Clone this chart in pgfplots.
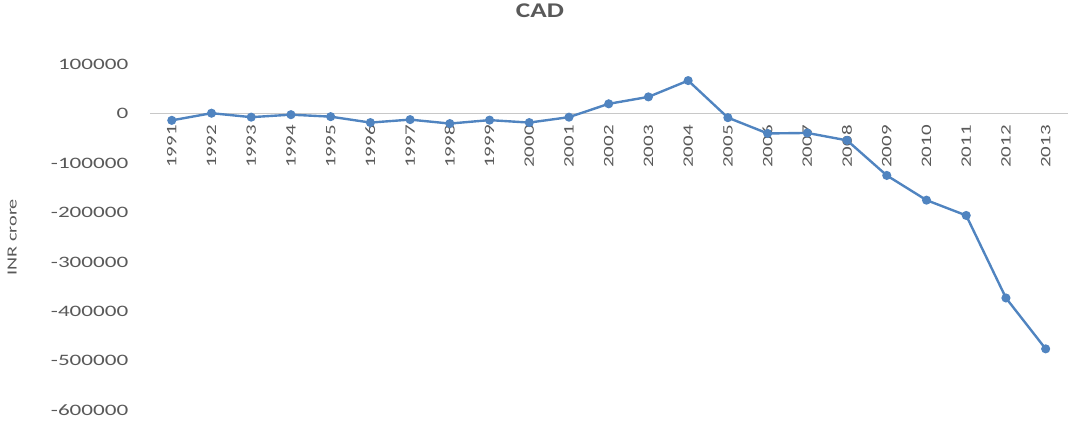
\documentclass[border=0pt]{standalone}
\usepackage{pgfplots}
\pgfplotsset{compat=1.18}
\usepackage{fontspec}
\setmainfont{Carlito}[FakeStretch=1.45]
\newfontfamily\titlefont{Carlito}[FakeStretch=1.3]
\definecolor{linecol}{RGB}{80,132,192}
\definecolor{txtgray}{RGB}{89,89,89}
\definecolor{zerogray}{RGB}{200,200,200}
\begin{document}
\begin{tikzpicture}
\begin{axis}[
  at={(0,0)}, anchor=south west,
  scale only axis,
  width=918bp, height=346bp,
  xmin=-0.55, xmax=22.55,
  ymin=-600000, ymax=100000,
  scaled y ticks=false,
  axis x line=middle,
  axis y line=left,
  x axis line style={draw=zerogray, line width=1pt, -},
  y axis line style={draw=none},
  xtick style={draw=none},
  ytick style={draw=none},
  xtick={0,...,22},
  xticklabels={1991,1992,1993,1994,1995,1996,1997,1998,1999,2000,2001,2002,2003,2004,2005,2006,2007,2008,2009,2010,2011,2012,2013},
  xticklabel shift=6bp,
  xticklabel style={rotate=90, anchor=east, font=\fontsize{14.5}{14.5}\selectfont, text=txtgray},
  ytick={-600000,-500000,-400000,-300000,-200000,-100000,0,100000},
  yticklabels={-600000,-500000,-400000,-300000,-200000,-100000,0,100000},
  yticklabel style={font=\fontsize{16}{16}\selectfont, text=txtgray, xshift=-16bp},
  ylabel={INR crore},
  ylabel style={at={(axis description cs:-0.150,0.5)}, anchor=center, font=\fontsize{14}{14}\selectfont, text=txtgray},
  title={\titlefont\bfseries CAD},
  title style={at={(axis description cs:0.425,1.139)}, anchor=center, font=\fontsize{21}{21}\selectfont, text=txtgray},
  clip=false,
]
\addplot[color=linecol, line width=2.4pt, mark=*, mark size=3.3pt, mark options={fill=linecol, draw=linecol}]
coordinates {
(0,-13500) (1,1000) (2,-7000) (3,-2000) (4,-6000) (5,-18000) (6,-12000) (7,-20000) (8,-13000) (9,-18000)
(10,-7000) (11,20000) (12,34000) (13,67000) (14,-8000) (15,-40000) (16,-39000) (17,-54000)
(18,-125000) (19,-175000) (20,-206000) (21,-373000) (22,-476000)
};
\end{axis}
\path[use as bounding box] (-150bp,-12bp) rectangle (918bp,406bp);
\end{tikzpicture}
\end{document}
